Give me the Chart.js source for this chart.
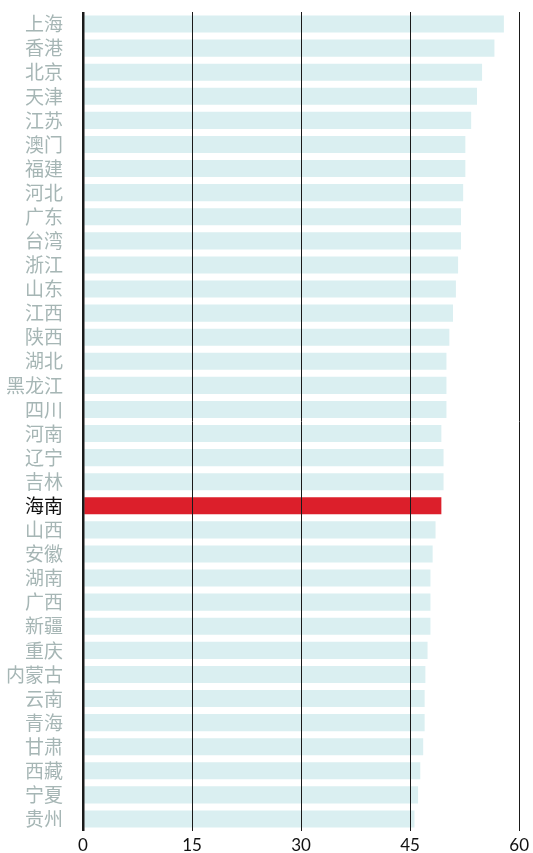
<!DOCTYPE html>
<html>
<head>
<meta charset="utf-8">
<script src="https://cdn.jsdelivr.net/npm/chart.js@4/dist/chart.umd.min.js"></script>
<style>
  html, body { margin: 0; padding: 0; background: #fff; }
  #wrap { width: 533px; height: 853px; position: relative; }
</style>
</head>
<body>
<div id="wrap"><canvas id="chart"></canvas></div>
<script>
// Provinces, ordered as in the picture
const regions = ['上海', '香港', '北京', '天津', '江苏', '澳门', '福建', '河北', '广东', '台湾',
    '浙江', '山东', '江西', '陕西', '湖北', '黑龙江', '四川', '河南', '辽宁', '吉林',
    '海南', '山西', '安徽', '湖南', '广西', '新疆', '重庆', '内蒙古', '云南', '青海',
    '甘肃', '西藏', '宁夏', '贵州'];
const values = [57.9, 56.6, 54.9, 54.2, 53.4, 52.6, 52.6, 52.3, 52.0, 52.0,
    51.6, 51.3, 50.9, 50.4, 50.0, 50.0, 50.0, 49.3, 49.6, 49.6,
    49.3, 48.5, 48.1, 47.8, 47.8, 47.8, 47.4, 47.1, 47.0, 47.0,
    46.8, 46.4, 46.1, 45.6];
const xTicks = [0, 15, 30, 45, 60];
const highlight = '海南';

const barColors = regions.map(r => r === highlight ? '#dc1f2b' : '#daeff1');
const labelColors = regions.map(r => r === highlight ? '#111111' : '#a6b6b5');

document.addEventListener('DOMContentLoaded', function() {
    const ctx = document.getElementById('chart');
    new Chart(ctx, {
        type: 'bar',
        data: {
            labels: regions,
            datasets: [{
                data: values,
                backgroundColor: barColors,
                borderWidth: 0,
                barPercentage: 0.71,
                categoryPercentage: 1
            }]
        },
        options: {
            indexAxis: 'y',
            responsive: true,
            maintainAspectRatio: false,
            animation: false,
            layout: { padding: { top: 12, right: 13, left: 0, bottom: 0 } },
            plugins: {
                legend: { display: false },
                tooltip: { enabled: false }
            },
            scales: {
                x: {
                    min: 0,
                    max: 60,
                    afterBuildTicks: scale => { scale.ticks = xTicks.map(v => ({ value: v })); },
                    afterFit: scale => { scale.height = 22; },
                    border: { display: false },
                    grid: {
                        z: 1,
                        color: '#1a1a1a',
                        lineWidth: c => c.tick && c.tick.value === 0 ? 2.5 : 1,
                        drawTicks: false
                    },
                    ticks: {
                        color: '#111',
                        padding: 4,
                        font: { family: 'Lato, "Noto Sans", sans-serif', size: 17 }
                    }
                },
                y: {
                    // label padding would otherwise push the plot area down
                    afterFit: scale => {
                        scale.width = 83;
                        scale.paddingTop = 0;
                        scale.paddingBottom = 0;
                    },
                    border: { display: false },
                    grid: { display: false, drawTicks: false },
                    ticks: {
                        color: c => labelColors[c.index],
                        padding: 20,
                        autoSkip: false,
                        font: { family: '"Noto Sans CJK SC", sans-serif', size: 19 }
                    }
                }
            }
        }
    });
});
</script>
</body>
</html>
